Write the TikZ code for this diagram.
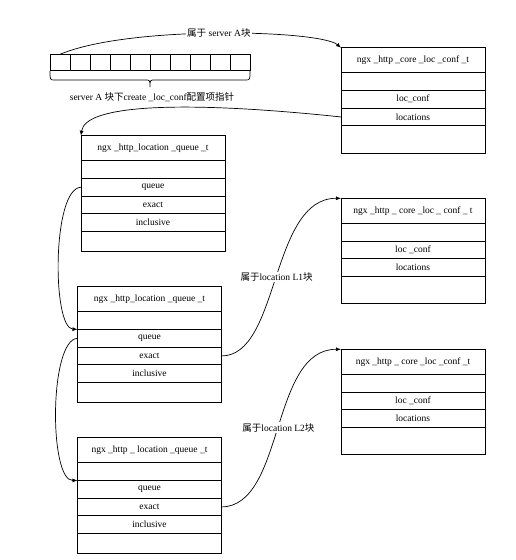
\documentclass[tikz,border=0pt]{standalone}
\usepackage{fontspec}
\setmainfont{Liberation Serif}
\newfontfamily\cjk{Noto Sans CJK SC}
\usetikzlibrary{arrows.meta,positioning}
\begin{document}
\begin{tikzpicture}[x=1pt,y=-1pt,
  every node/.style={font=\fontsize{9.5}{10.5}\selectfont},
  row/.style={draw, line width=0.8pt, minimum width=144pt, minimum height=17.7pt, inner sep=0pt, outer sep=0pt},
  hdr/.style={row, minimum height=25pt},
  cell/.style={draw, line width=0.8pt, minimum width=20pt, minimum height=16.4pt, inner sep=0pt, outer sep=0pt, anchor=north west},
  link/.style={line width=0.7pt, -{Latex[length=5pt,width=4pt]}},
  lbl/.style={fill=white, inner sep=1pt}]
\useasboundingbox (0,0) rectangle (515,560);

% array of pointers
\foreach \i in {0,...,9} \node[cell] (a\i) at ({50+20*\i},54.3) {};
\draw[line width=0.7pt] (50,71) .. controls (50,80) .. (55,80) -- (145,80) .. controls (150,80) .. (150,87)
  .. controls (150,80) .. (155,80) -- (245,80) .. controls (250,80) .. (250,71);
\node (blabel) at (152,97) {server A {\cjk 块下}create \_loc\_conf{\cjk 配置项指针}};

% core box 1
\node[hdr, anchor=north west] (c1h) at (341,47.7) {ngx \_http \_core \_loc \_conf \_t};
\node[row, below=0pt of c1h] (c1e) {};
\node[row, below=0pt of c1e] (c1l) {loc\_conf};
\node[row, below=0pt of c1l] (c1s) {locations};
\node[row, minimum height=27.3pt, below=0pt of c1s] (c1b) {};

% core box 2
\node[hdr, anchor=north west] (c2h) at (341,198.3) {ngx \_http \_ core \_loc \_ conf \_ t};
\node[row, below=0pt of c2h] (c2e) {};
\node[row, below=0pt of c2e] (c2l) {loc \_conf};
\node[row, below=0pt of c2l] (c2s) {locations};
\node[row, minimum height=27.3pt, below=0pt of c2s] (c2b) {};

% core box 3
\node[hdr, anchor=north west] (c3h) at (341,349.3) {ngx \_http \_ core \_loc \_conf \_t};
\node[row, below=0pt of c3h] (c3e) {};
\node[row, below=0pt of c3e] (c3l) {loc \_conf};
\node[row, below=0pt of c3l] (c3s) {locations};
\node[row, minimum height=27.3pt, below=0pt of c3s] (c3b) {};

% queue box 1
\node[hdr, anchor=north west] (q1h) at (81,135.7) {ngx \_http\_location \_queue \_t};
\node[row, below=0pt of q1h] (q1e) {};
\node[row, below=0pt of q1e] (q1q) {queue};
\node[row, below=0pt of q1q] (q1x) {exact};
\node[row, below=0pt of q1x] (q1i) {inclusive};
\node[row, minimum height=19.7pt, below=0pt of q1i] (q1b) {};

% queue box 2
\node[hdr, anchor=north west] (q2h) at (77.5,286.7) {ngx \_http\_location \_queue \_t};
\node[row, below=0pt of q2h] (q2e) {};
\node[row, below=0pt of q2e] (q2q) {queue};
\node[row, below=0pt of q2q] (q2x) {exact};
\node[row, below=0pt of q2x] (q2i) {inclusive};
\node[row, minimum height=20pt, below=0pt of q2i] (q2b) {};

% queue box 3
\node[hdr, anchor=north west] (q3h) at (77.5,437.7) {ngx \_http \_ location \_queue \_t};
\node[row, below=0pt of q3h] (q3e) {};
\node[row, below=0pt of q3e] (q3q) {queue};
\node[row, below=0pt of q3q] (q3x) {exact};
\node[row, below=0pt of q3x] (q3i) {inclusive};
\node[row, minimum height=20pt, below=0pt of q3i] (q3b) {};

% connectors
\draw[link] (a0.north) .. controls (130,25) and (320,30) .. (c1h.north west)
  node[lbl, pos=0.5] {{\cjk 属于} server A{\cjk 块}};
\draw[link] (c1s.west) .. controls (180,100) and (85,105) .. (q1h.north west);
\draw[link] (q1q.west) .. controls (52,188) and (52,328) .. (q2q.north west);
\draw[link] (q2q.west) .. controls (49,340) and (49,481) .. (q3q.north west);
\draw[link] (q2x.east) .. controls (280,356) and (270,198) .. (c2h.north west)
  node[lbl, pos=0.5] {{\cjk 属于}location L1{\cjk 块}};
\draw[link] (q3x.east) .. controls (285,506) and (270,349) .. (c3h.north west)
  node[lbl, pos=0.5] {{\cjk 属于}location L2{\cjk 块}};
\end{tikzpicture}
\end{document}
